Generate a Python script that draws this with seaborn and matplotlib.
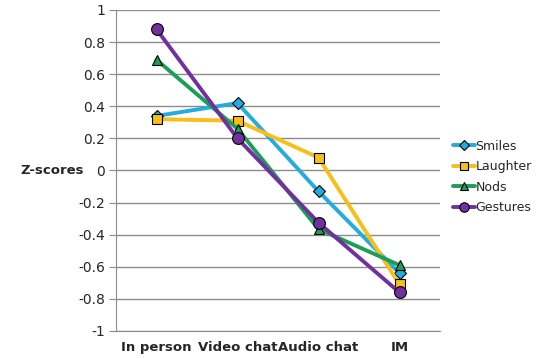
import matplotlib
matplotlib.use("Agg")
import matplotlib.pyplot as plt
import seaborn as sns
import pandas as pd

categories = ["In person", "Video chat", "Audio chat", "IM"]
smiles = [0.34, 0.42, -0.13, -0.64]
laughter = [0.32, 0.31, 0.08, -0.71]
nods = [0.69, 0.26, -0.365, -0.59]
gestures = [0.88, 0.20, -0.325, -0.76]
series_names = ["Smiles", "Laughter", "Nods", "Gestures"]
yticks = [1, 0.8, 0.6, 0.4, 0.2, 0, -0.2, -0.4, -0.6, -0.8, -1]

rows = []
for name, vals in zip(series_names, [smiles, laughter, nods, gestures]):
    for c, v in zip(categories, vals):
        rows.append({"cat": c, "val": v, "series": name})
df = pd.DataFrame(rows)

sns.set_style("white")
plt.rcParams['font.family'] = ['DejaVu Sans']

colors = {"Smiles": "#22ACE0", "Laughter": "#F8BE1A", "Nods": "#1D9E58", "Gestures": "#7030A0"}
markers = {"Smiles": "D", "Laughter": "s", "Nods": "^", "Gestures": "o"}
msize = {"Smiles": 6.0, "Laughter": 7.5, "Nods": 7.5, "Gestures": 8.5}

fig = plt.figure(figsize=(5.43, 3.59), dpi=100)
ax = fig.add_axes([116/543, 1-331/359, (440-116)/543, (331-10)/359])

for name in series_names:
    sub = df[df.series == name]
    sns.lineplot(data=sub, x="cat", y="val", ax=ax, color=colors[name], lw=2.8,
                 marker=markers[name], markersize=msize[name], markeredgecolor="black",
                 markeredgewidth=0.8, label=name, sort=False)

ax.set_ylim(-1, 1)
ax.set_xlim(-0.5, 3.5)
ax.set_yticks(yticks)
ax.set_yticklabels([f"{t:g}" for t in yticks], fontsize=10)
ax.yaxis.grid(True, color="#8c8c8c", lw=1)
ax.set_axisbelow(True)
for s in ["top", "right"]:
    ax.spines[s].set_visible(False)
ax.spines["left"].set_color("#8c8c8c")
ax.spines["bottom"].set_color("#8c8c8c")
ax.tick_params(axis="y", left=True, length=5, color="#8c8c8c", pad=3)
ax.tick_params(axis="x", bottom=False, pad=4)
for lab in ax.get_xticklabels():
    lab.set_fontweight("bold")
    lab.set_fontsize(9.5)
ax.set_xlabel("")
ax.set_ylabel("")
fig.text(52/543, 1-171/359, "Z-scores", fontsize=9.5, fontweight="bold", ha="center", va="center")

leg = ax.legend(loc="center left", bbox_to_anchor=(1.04, 0.48), frameon=False, fontsize=9,
                handlelength=1.8, handletextpad=0.0, labelspacing=0.6, borderaxespad=0,
                borderpad=0, markerscale=0.8)
fig.savefig("out.png", dpi=100)
